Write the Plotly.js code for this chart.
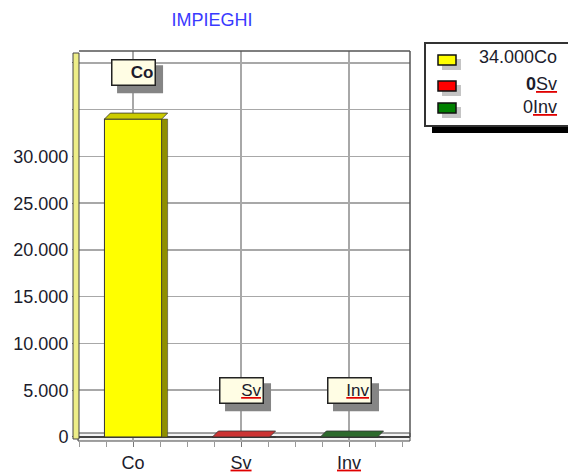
<!DOCTYPE html>
<html>
<head>
<meta charset="utf-8">
<script src="https://cdn.plot.ly/plotly-3.0.1.min.js"></script>
<style>html,body{margin:0;padding:0;background:#fff;}#chart{width:568px;height:473px;}</style>
</head>
<body>
<div id="chart"></div>
<script>
// ---- data ----
const categories = ['Co', 'Sv', 'Inv'];
const values = [34000, 0, 0];
const frontColors = ['#ffff00', '#ff0000', '#008000'];
const topColors = ['#cccc00', '#cc3333', '#2d6a2d'];
const sideColors = ['#8f8f00', '#992222', '#1f4f1f'];
const yTickVals = [0, 5000, 10000, 15000, 20000, 25000, 30000, 35000, 40000];
const yTickText = ['0', '5.000', '10.000', '15.000', '20.000', '25.000', '30.000', '', ''];
const chartTitle = 'IMPIEGHI';

// ---- geometry helpers ----
const W = 568, H = 473;
const ML = 78, MR = 158, MT = 51, MB = 32;
const PW = W - ML - MR, PH = H - MT - MB;
const px = x => (x - ML) / PW;
const py = y => (H - MB - y) / PH;
const font = 'Arial, "Liberation Sans", sans-serif';
const txtColor = '#1c1c2c';
const xIdx = categories.map((c, i) => i);
const fmt = v => String(Math.round(v)).replace(/\B(?=(\d{3})+(?!\d))/g, '.');
const wavy = t => '<span style="text-decoration:underline wavy;color:#e00000"><span style="color:' + txtColor + '">' + t + '</span></span>';

const halfW = 0.265, depthX = 0.055, depthY = 640;

const traces = [];
traces.push({
  type: 'bar', x: xIdx, y: values, width: 2 * halfW,
  marker: {color: frontColors, line: {color: '#333', width: 1}},
  hoverinfo: 'skip', showlegend: false
});
traces.push({
  type: 'bar', x: xIdx, y: values, width: depthX, offset: halfW,
  marker: {color: sideColors, line: {color: '#333', width: 0.5}},
  hoverinfo: 'skip', showlegend: false
});
categories.forEach((c, i) => {
  const v = values[i];
  traces.push({
    type: 'scatter', mode: 'lines', fill: 'toself',
    x: [i - halfW, i + halfW, i + halfW + depthX, i - halfW + depthX, i - halfW],
    y: [v, v, v + depthY, v + depthY, v],
    fillcolor: topColors[i], line: {color: '#333', width: 0.8},
    hoverinfo: 'skip', showlegend: false
  });
});

const shapes = [];
shapes.push({type: 'rect', xref: 'paper', yref: 'paper', x0: 0, x1: 1, y0: 0, y1: py(433),
  fillcolor: '#f4f4f4', line: {color: '#444', width: 1}, layer: 'below'});
shapes.push({type: 'rect', xref: 'paper', yref: 'paper', x0: px(73), x1: px(79), y0: py(439), y1: py(53),
  fillcolor: '#eeee88', line: {color: '#444', width: 1}});
shapes.push({type: 'line', xref: 'paper', yref: 'paper', x0: px(79), x1: 1, y0: 1, y1: 1, line: {color: '#555', width: 1.5}});
shapes.push({type: 'line', xref: 'paper', yref: 'paper', x0: 1, x1: 1, y0: 0.01, y1: 1, line: {color: '#555', width: 1.5}});
shapes.push({type: 'rect', xref: 'paper', yref: 'paper', x0: px(432), x1: px(580), y0: py(133), y1: py(125),
  fillcolor: '#000', line: {width: 0}});
shapes.push({type: 'rect', xref: 'paper', yref: 'paper', x0: px(425), x1: px(580), y0: py(126), y1: py(43),
  fillcolor: '#fff', line: {color: '#333', width: 2}});

const annotations = [];
const rowText = [57, 84, 107];
const rowSw = [60, 86, 108];
categories.forEach((c, i) => {
  const cy = rowSw[i];
  shapes.push({type: 'rect', xref: 'paper', yref: 'paper', x0: px(442), x1: px(461), y0: py(cy + 10), y1: py(cy - 1),
    fillcolor: '#c4c4c4', line: {width: 0}});
  shapes.push({type: 'rect', xref: 'paper', yref: 'paper', x0: px(438), x1: px(456), y0: py(cy + 5), y1: py(cy - 5),
    fillcolor: frontColors[i], line: {color: '#111', width: 1.5}});
  const num = fmt(values[i]);
  annotations.push({xref: 'paper', yref: 'paper', x: px(558), y: py(rowText[i]), xanchor: 'right', yanchor: 'middle',
    text: (i === 1 ? '<b>' + num + '</b>' : num) + (i === 0 ? c : wavy(c)),
    showarrow: false, borderpad: 0, font: {family: font, size: 18, color: txtColor}});
  // data label: shadow (shape) then box (annotation)
  const ly = values[i] + 5000;
  shapes.push({type: 'rect', xref: 'x', yref: 'y', xsizemode: 'pixel', ysizemode: 'pixel',
    xanchor: i, yanchor: ly, x0: -23 + 7, x1: 23 + 7, y0: -14 - 7, y1: 14 - 7,
    fillcolor: '#858585', line: {width: 0}, layer: 'above'});
  annotations.push({x: i, y: ly, text: i === 0 ? '<b>' + c + '</b>' : wavy(c), showarrow: false,
    width: 40, height: 22, borderpad: 1, bgcolor: '#fffde4', bordercolor: '#222', borderwidth: 1.5,
    align: 'right', font: {family: font, size: 17, color: txtColor}});
});

const layout = {
  width: W, height: H,
  margin: {l: ML, r: MR, t: MT, b: MB, pad: 0},
  paper_bgcolor: '#fff', plot_bgcolor: '#fff',
  separators: ',.',
  showlegend: false,
  barmode: 'overlay',
  title: {text: chartTitle, font: {family: font, size: 18, color: '#3a3aff'},
    x: 212 / W, xanchor: 'center', xref: 'container', y: 1 - 20 / H, yanchor: 'middle', yref: 'container'},
  xaxis: {
    range: [-0.51, 2.565], tickvals: xIdx, ticktext: categories.map((c, i) => i === 0 ? c : wavy(c)),
    showgrid: true, gridcolor: '#a8a8a8', gridwidth: 1.5, zeroline: false, showline: false,
    ticks: 'outside', ticklen: 5, tickcolor: '#777', tickwidth: 1,
    minor: {dtick: 0.25, tick0: 0, ticks: 'outside', ticklen: 5, tickcolor: '#999', showgrid: false},
    tickfont: {family: font, size: 18, color: txtColor}, fixedrange: true
  },
  yaxis: {
    range: [-430, 41280], tickvals: yTickVals, ticktext: yTickText,
    showgrid: true, gridcolor: '#a8a8a8', gridwidth: 1.5, zeroline: true, zerolinecolor: '#444', zerolinewidth: 1.5,
    showline: false, ticks: 'outside', ticklen: 5, tickcolor: '#777', tickwidth: 1,
    minor: {dtick: 1000, ticks: 'outside', ticklen: 3, tickcolor: '#999', showgrid: false},
    tickfont: {family: font, size: 18, color: txtColor}, fixedrange: true
  },
  shapes: shapes,
  annotations: annotations
};

Plotly.newPlot('chart', traces, layout, {displayModeBar: false, staticPlot: true});
</script>
</body>
</html>
